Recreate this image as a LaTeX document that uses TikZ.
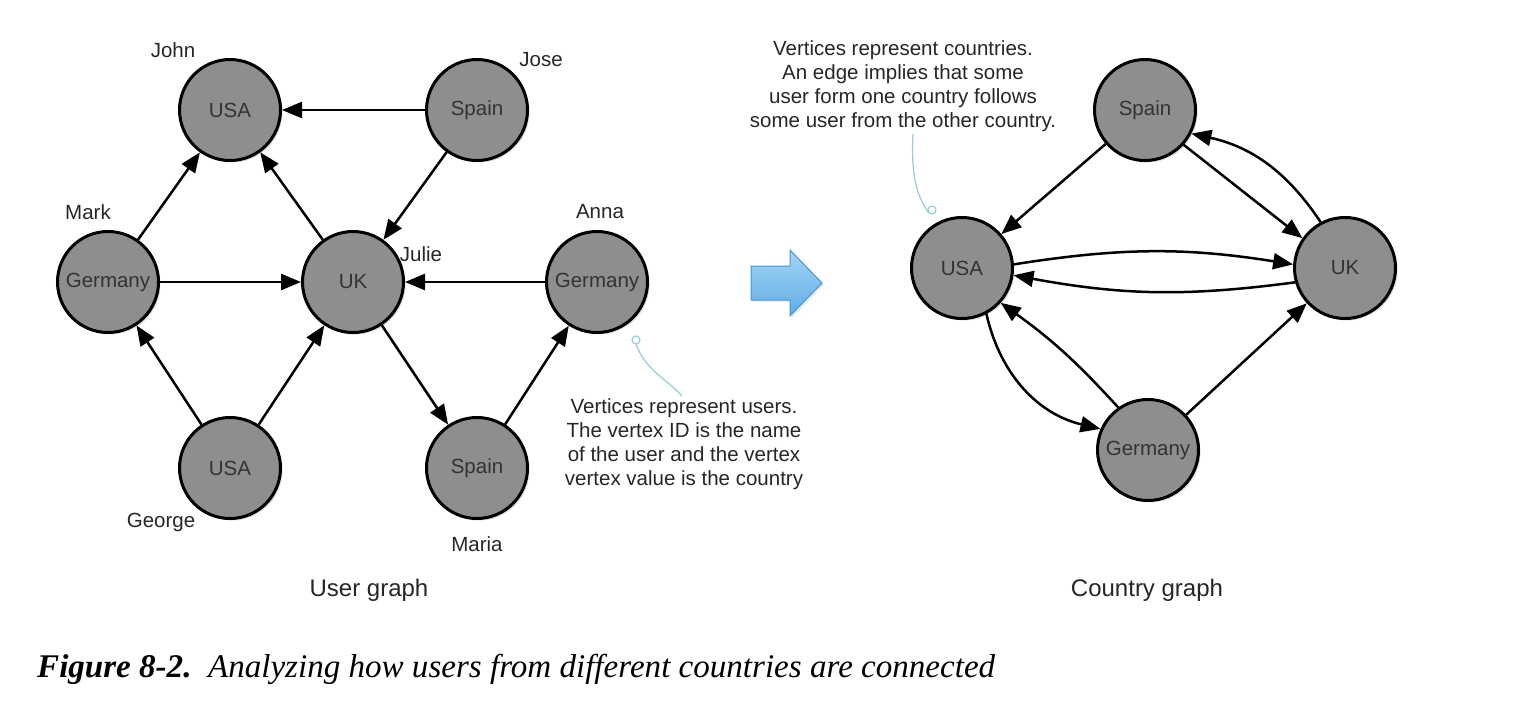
\documentclass[tikz,border=0pt]{standalone}
\usepackage{fontspec}
\setmainfont{Liberation Serif}
\setsansfont{Liberation Sans}
\usetikzlibrary{arrows.meta,shadows}
\definecolor{nodegray}{RGB}{142,142,142}
\definecolor{calloutblue}{RGB}{150,205,215}
\definecolor{arrowtop}{RGB}{165,214,245}
\definecolor{arrowbot}{RGB}{95,172,230}
\definecolor{arrowedge}{RGB}{70,150,215}
\begin{document}
\begin{tikzpicture}[x=1pt,y=-1pt,
  vert/.style={circle,draw=black,line width=3pt,fill=nodegray,minimum size=101pt,inner sep=0pt,
    font=\sffamily\fontsize{20.5}{24}\selectfont,text=black!80,
    drop shadow={opacity=0.3,shadow xshift=2pt,shadow yshift=-2pt}},
  lbl/.style={font=\sffamily\fontsize{20.5}{24}\selectfont,text=black!85},
  note/.style={font=\sffamily\fontsize{20.5}{24}\selectfont,text=black!85,align=center},
  graphcap/.style={font=\sffamily\fontsize{24}{28}\selectfont,text=black!85},
  edgeln/.style={line width=2.5pt,-{Triangle[length=20pt,width=16pt]}},
  callout/.style={draw=calloutblue,line width=1.2pt},
]
\useasboundingbox (0,0) rectangle (1518,702);

% ---------- User graph ----------
\node[vert] (john)  at (230,110) {USA};
\node[vert] (jose)  at (477,110) {Spain};
\node[vert] (mark)  at (108,282) {Germany};
\node[vert] (julie) at (353,282) {UK};
\node[vert] (anna)  at (597,282) {Germany};
\node[vert] (george) at (230,468) {USA};
\node[vert] (maria) at (477,468) {Spain};

\node[lbl] (lJohn) at (173,50) {John};
\node[lbl] (lJose) at (541,60) {Jose};
\node[lbl] (lMark) at (88,212) {Mark};
\node[lbl] (lAnna) at (600,212) {Anna};
\node[lbl] (lJulie) at (421,254) {Julie};
\node[lbl] (lGeorge) at (161,522) {George};
\node[lbl] (lMaria) at (477,544) {Maria};

\draw[edgeln] (jose) -- (john);
\draw[edgeln] (mark) -- (john);
\draw[edgeln] (julie) -- (john);
\draw[edgeln] (jose) -- (julie);
\draw[edgeln] (mark) -- (julie);
\draw[edgeln] (anna) -- (julie);
\draw[edgeln] (george) -- (mark);
\draw[edgeln] (george) -- (julie);
\draw[edgeln] (julie) -- (maria);
\draw[edgeln] (maria) -- (anna);

\node[note] (noteU) at (684,444) {Vertices represent users.\\The vertex ID is the name\\of the user and the vertex\\vertex value is the country};
\coordinate (noteUpin) at (636,340);
\coordinate (noteUend) at (682,396);
\draw[callout] (noteUpin) circle (4pt);
\draw[callout] ([yshift=-4pt]noteUpin) .. controls (645,370) and (668,380) .. (noteUend);

\node[graphcap] (capU) at (369,590) {User graph};

% ---------- transition arrow ----------
\path[shade,top color=arrowtop,bottom color=arrowbot,draw=arrowedge,line width=1pt,
  drop shadow={opacity=0.15,shadow xshift=2pt,shadow yshift=-2pt}]
  (751,266) -- (790,266) -- (790,250) -- (822,283) -- (790,316) -- (790,300) -- (751,300) -- cycle;

% ---------- Country graph ----------
\node[vert] (cSpain) at (1145,110) {Spain};
\node[vert] (cUSA) at (962,268) {USA};
\node[vert] (cUK) at (1345,268) {UK};
\node[vert] (cGer) at (1148,450) {Germany};

\draw[edgeln] (cSpain) -- (cUSA);
\draw[edgeln] (cSpain.-42) -- (cUK.145);
\draw[edgeln] (cUK.118) to[bend right=22] (cSpain.-27);
\draw[edgeln] (cUSA.4) to[bend left=9] (cUK.176);
\draw[edgeln] (cUK.-164) to[bend left=9] (cUSA.-8);
\draw[edgeln] (cUSA.-62) to[bend right=32] (cGer.156);
\draw[edgeln] (cGer.125) to[bend right=6] (cUSA.-42);
\draw[edgeln] (cGer) -- (cUK);

\node[note] (noteC) at (903,86) {Vertices represent countries.\\An edge implies that some\\user form one country follows\\some user from the other country.};
\coordinate (noteCstart) at (913,134);
\coordinate (noteCpin) at (932,210);
\draw[callout] (noteCpin) circle (4pt);
\draw[callout] (noteCstart) .. controls (911,175) and (916,195) .. ([xshift=-3pt,yshift=-3pt]noteCpin);

\node[graphcap] (capC) at (1147,590) {Country graph};

% ---------- figure caption ----------
\node[anchor=base west,inner sep=0pt] (figcap) at (37,677)
  {\resizebox{958pt}{!}{\fontsize{30}{34}\selectfont\itshape\textbf{Figure 8-2.}\enspace Analyzing how users from different countries are connected}};
\end{tikzpicture}
\end{document}
